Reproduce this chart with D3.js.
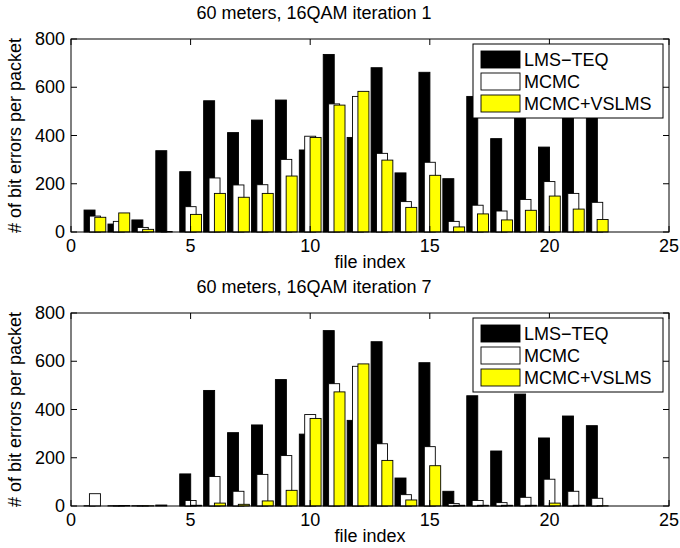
<!DOCTYPE html>
<html>
<head>
<meta charset="utf-8">
<script src="https://cdn.jsdelivr.net/npm/d3@7"></script>
<style>
  body { margin: 0; background: #fff; }
  svg text { font-family: "Liberation Sans", Arial, sans-serif; fill: #000; }
</style>
</head>
<body>
<div id="chart"></div>
<script>
// file indices 1..22
const fileIndex = d3.range(1, 23);
const seriesNames = ['LMS\u2212TEQ', 'MCMC', 'MCMC+VSLMS'];
const xTicks = [0, 5, 10, 15, 20, 25];
const yTicks = [0, 200, 400, 600, 800];

// iteration 1
const lmsIter1   = [91, 33, 50, 337, 250, 544, 412, 464, 547, 340, 736, 392, 681, 245, 662, 221, 562, 387, 520, 352, 490, 480];
const mcmcIter1  = [66, 44, 19, 2, 105, 224, 195, 196, 301, 397, 531, 562, 326, 126, 289, 44, 111, 87, 135, 209, 160, 123];
const vslmsIter1 = [61, 79, 11, 0, 73, 160, 144, 160, 232, 392, 526, 583, 298, 102, 235, 21, 75, 50, 90, 149, 95, 52];

// iteration 7
const lmsIter7   = [1, 1, 1, 4, 133, 479, 304, 336, 524, 298, 727, 355, 681, 116, 594, 61, 457, 228, 464, 282, 373, 333];
const mcmcIter7  = [51, 1, 1, 0, 23, 122, 61, 131, 209, 379, 507, 579, 258, 47, 246, 10, 23, 14, 36, 111, 61, 32];
const vslmsIter7 = [0, 2, 1, 0, 3, 12, 7, 21, 65, 363, 473, 589, 189, 25, 167, 3, 3, 3, 3, 12, 3, 1];

const fills = ['#000000', '#ffffff', '#ffff00'];
const offsets = [-0.225, 0, 0.225];
const barW = 0.46;

const W = 680, H = 548;
const svg = d3.select('#chart').append('svg')
    .attr('width', W)
    .attr('height', H);

function drawPanel(top, title, series) {
    const left = 71, width = 598, height = 193;
    const g = svg.append('g')
        .attr('transform', 'translate(' + left + ',' + top + ')');

    const x = d3.scaleLinear().domain([0, 25]).range([0, width]);
    const y = d3.scaleLinear().domain([0, 800]).range([height, 0]);

    // bars, black first then white then yellow on top
    series.forEach(function(vals, s) {
        g.selectAll('.bar' + s)
            .data(vals)
            .enter()
            .append('rect')
            .attr('x', (d, i) => x(fileIndex[i] + offsets[s] - barW / 2))
            .attr('y', d => y(d))
            .attr('width', x(barW) - x(0))
            .attr('height', d => y(0) - y(d))
            .attr('fill', fills[s])
            .attr('stroke', '#000')
            .attr('stroke-width', 0.9);
    });

    // box
    g.append('rect')
        .attr('width', width).attr('height', height)
        .attr('fill', 'none').attr('stroke', '#000').attr('stroke-width', 1);

    // inward ticks
    const tl = 6;
    xTicks.forEach(function(t) {
        g.append('line').attr('x1', x(t)).attr('x2', x(t)).attr('y1', height).attr('y2', height - tl).attr('stroke', '#000');
        g.append('line').attr('x1', x(t)).attr('x2', x(t)).attr('y1', 0).attr('y2', tl).attr('stroke', '#000');
        g.append('text').attr('x', x(t)).attr('y', height + 20)
            .attr('text-anchor', 'middle').style('font-size', '18px').text(t);
    });
    yTicks.forEach(function(t) {
        g.append('line').attr('x1', 0).attr('x2', tl).attr('y1', y(t)).attr('y2', y(t)).attr('stroke', '#000');
        g.append('line').attr('x1', width).attr('x2', width - tl).attr('y1', y(t)).attr('y2', y(t)).attr('stroke', '#000');
        g.append('text').attr('x', -6).attr('y', y(t) + 6)
            .attr('text-anchor', 'end').style('font-size', '18px').text(t);
    });

    // labels
    g.append('text').attr('x', width / 2).attr('y', height + 36)
        .attr('text-anchor', 'middle').style('font-size', '18px').text('file index');
    g.append('text').attr('x', 243).attr('y', -20)
        .attr('text-anchor', 'middle').style('font-size', '18px').text(title);
    g.append('text')
        .attr('transform', 'translate(-50,' + (height / 2) + ') rotate(-90)')
        .attr('text-anchor', 'middle').style('font-size', '18px')
        .text('# of bit errors per packet');

    // legend
    const lg = g.append('g').attr('transform', 'translate(402,5)');
    lg.append('rect').attr('width', 190).attr('height', 74)
        .attr('fill', '#fff').attr('stroke', '#000');
    seriesNames.forEach(function(name, s) {
        const cy = 15 + s * 22;
        lg.append('rect').attr('x', 8).attr('y', cy - 8).attr('width', 39).attr('height', 17)
            .attr('fill', fills[s]).attr('stroke', '#000').attr('stroke-width', 0.9);
        lg.append('text').attr('x', 51).attr('y', cy + 6.5)
            .style('font-size', '18px').text(name);
    });
}

drawPanel(39, '60 meters, 16QAM iteration 1', [lmsIter1, mcmcIter1, vslmsIter1]);
drawPanel(313, '60 meters, 16QAM iteration 7', [lmsIter7, mcmcIter7, vslmsIter7]);
</script>
</body>
</html>
